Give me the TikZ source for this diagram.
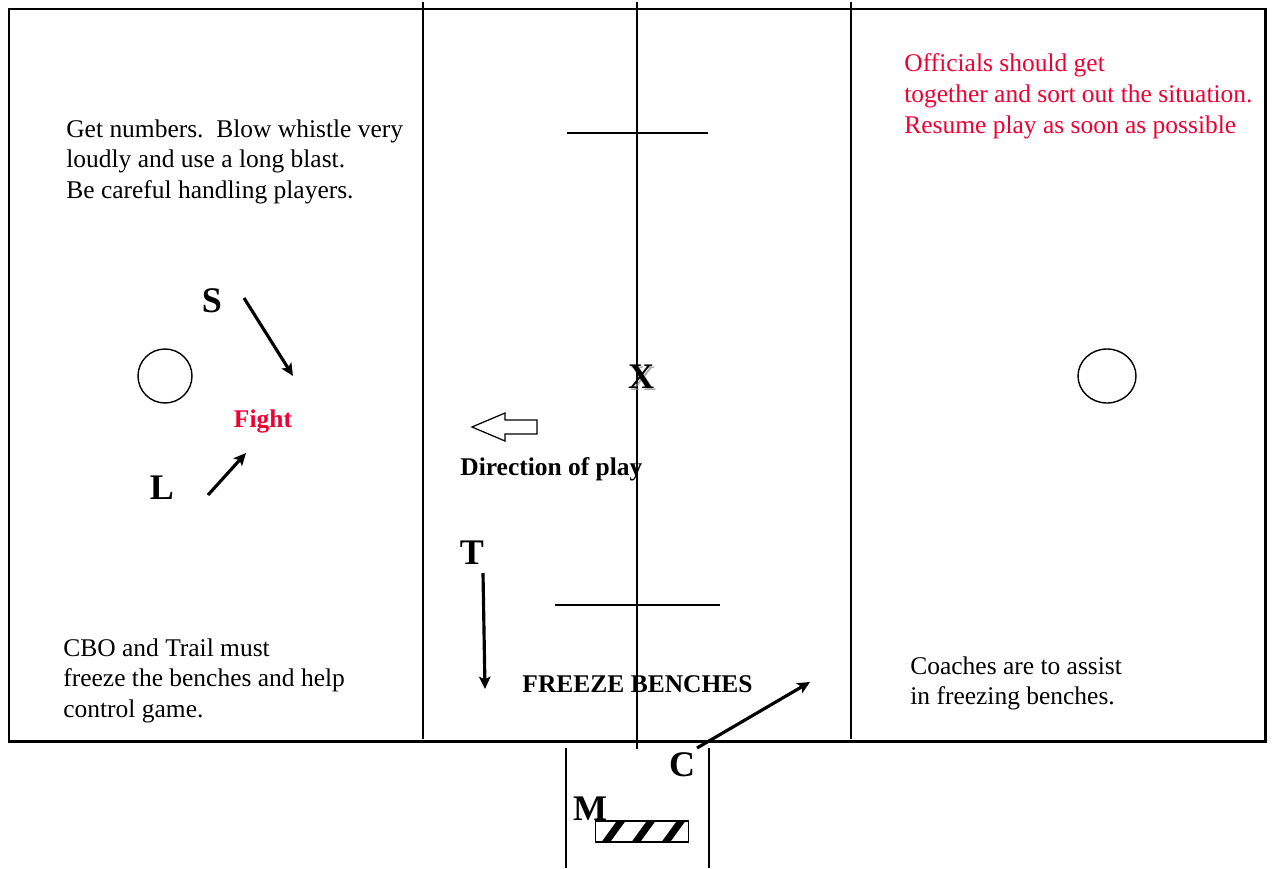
\documentclass[tikz,border=0pt]{standalone}
\usepackage{fontspec}
\setmainfont{Liberation Serif}
\usepackage{xcolor}
\usetikzlibrary{arrows.meta,positioning,calc}
\definecolor{NoteRed}{RGB}{240, 0, 50}
\definecolor{ShadowGrey}{RGB}{140, 140, 140}

\begin{document}
\begin{tikzpicture}[
      x=0.02cm, y=-0.02cm,
      every node/.style={inner sep=0pt},
      note/.style={font=\fontsize{14.5}{17.6}\selectfont, align=left, anchor=north west},
      player/.style={font=\fontsize{20.5}{24}\selectfont\bfseries},
      tag/.style={font=\fontsize{14.5}{17}\selectfont\bfseries},
      field/.style={line width=1.7pt},
      marking/.style={line width=0.8pt},
      move/.style={-{Stealth[length=7pt, width=6.5pt, inset=1.5pt]}, line width=1.8pt},
      bench/.style={draw, line width=0.8pt, minimum width=1.86cm, minimum height=0.42cm,
        path picture={\foreach \k in {0,1,2}
          \draw[line width=4pt] ([xshift=0.12cm+\k*0.6cm, yshift=-0.12cm]path picture bounding box.south west) -- ++(0.48cm,0.66cm);}}
    ]
      \useasboundingbox (0,0) rectangle (1273,868);

      % Field
      \draw[field] (9,9) rectangle (1265,741);
      \draw[marking] (423,2) -- (423,739);
      \draw[marking] (637,2) -- (637,749);
      \draw[marking] (851,2) -- (851,739);
      \draw[marking] (567,133) -- (708,133);
      \draw[marking] (555,605) -- (720,605);
      \draw[marking] (165,376) circle (27);
      \draw[marking] (1107,376) ellipse (29 and 27);

      % Table area
      \draw[marking] (566,748) -- (566,868);
      \draw[marking] (709,748) -- (709,868);
      \node[bench] (table) at (642,831.5) {};

      % Officials
      \node[player, text=ShadowGrey, opacity=0.7] (xshade) at (643,379) {X};
      \node[player] (X) at (641,377) {X};
      \node[player] (S) at (212,301) {S};
      \node[player] (L) at (162,488) {L};
      \node[player] (T) at (472,553) {T};
      \node[player] (C) at (682,765) {C};
      \node[player] (M) at (590,809) {M};

      % Labels
      \node[tag, text=NoteRed] (fight) at (263,421) {Fight};
      \node[tag, anchor=west] (dir) at (460,469) {Direction of play};
      \node[tag] (freeze) at (637.5,684) {FREEZE BENCHES};

      % Notes
      \node[note] (numbers) at (66,119) {Get numbers.\ \ Blow whistle very\\loudly and use a long blast.\\Be careful handling players.};
      \node[note, text=NoteRed] (sortout) at (904,53) {Officials should get\\together and sort out the situation.\\Resume play as soon as possible};
      \node[note] (cbo) at (63,638) {CBO and Trail must\\freeze the benches and help\\control game.};
      \node[note] (coaches) at (910,656) {Coaches are to assist\\in freezing benches.};

      % Movements
      \coordinate (s0) at (244,298);
      \coordinate (s1) at (293,376);
      \coordinate (l0) at (208,495);
      \coordinate (l1) at (246,453);
      \coordinate (t0) at (483,573);
      \coordinate (t1) at (485,689);
      \coordinate (c0) at (697,748);
      \coordinate (c1) at (810,682);
      \draw[move] (s0) -- (s1);
      \draw[move] (l0) -- (l1);
      \draw[move] (t0) -- (t1);
      \draw[move] (c0) -- (c1);

      % Direction arrow
      \draw[line width=0.7pt, fill=white] (472,427) -- (505,413) -- (505,420) -- (537,420) -- (537,434) -- (505,434) -- (505,441) -- cycle;
    \end{tikzpicture}
\end{document}
